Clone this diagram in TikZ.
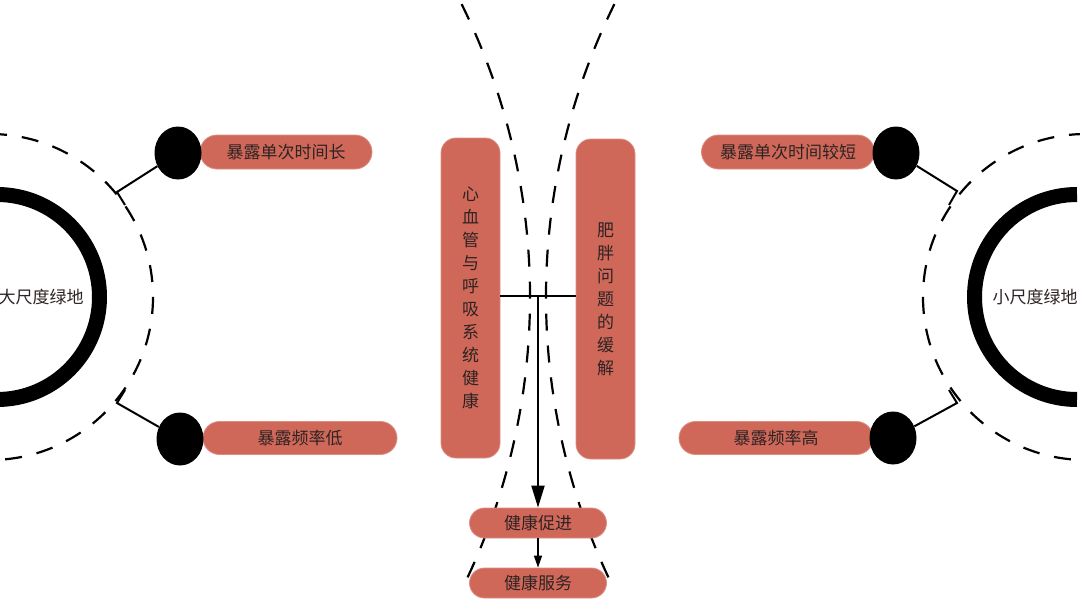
\documentclass[tikz,border=0pt]{standalone}
\usepackage{fontspec}
\newfontfamily\cjk{Noto Sans CJK SC}
\usetikzlibrary{shapes.geometric,arrows.meta}
\definecolor{salmon}{RGB}{207,104,89}
\definecolor{txt}{RGB}{45,35,35}
\tikzset{
  pill/.style={draw=salmon!75!white, line width=0.8pt, fill=salmon, rounded corners=#1,
    inner sep=0pt, text=txt, font=\cjk\fontsize{17}{20}\selectfont},
  tallbox/.style={draw=salmon!75!white, line width=0.8pt, fill=salmon, rounded corners=15pt,
    minimum width=59pt, minimum height=320pt, inner sep=0pt, text=txt, align=center,
    font=\cjk\fontsize{17}{23}\selectfont},
  dot/.style={ellipse, fill=black, minimum width=47pt, minimum height=53pt, inner sep=0pt},
  dashcurve/.style={line width=2.2pt, dash pattern=on 17pt off 15pt},
  bracket/.style={line width=2pt},
  label/.style={text=txt, font=\cjk\fontsize{17}{20}\selectfont, inner sep=0pt},
}
\begin{document}
\begin{tikzpicture}[x=1pt,y=-1pt]
\useasboundingbox[fill=white] (0,0) rectangle (1080,605);

% thick arcs
\draw[line width=15pt] (-3,194.5) arc[start angle=90, end angle=-90, radius=102.5pt];
\draw[line width=15pt] (1077,194.5) arc[start angle=90, end angle=270, radius=102.5pt];
% dashed circles
\draw[dashcurve] (-10,134) arc[start angle=90, end angle=-90, radius=163pt];
\draw[dashcurve] (1086,134) arc[start angle=90, end angle=270, radius=163pt];
% central dashed curves
\draw[dashcurve] (461.6,4.1) arc[start angle=26.3, end angle=-26.3, radius=661pt];
\draw[dashcurve] (614.4,4.1) arc[start angle=153.7, end angle=206.3, radius=661pt];

% labels
\node[label] (big) at (41,297) {大尺度绿地};
\node[label] (small) at (1035,297) {小尺度绿地};

% pills
\node[pill=17pt, minimum width=172pt, minimum height=34pt] (tl) at (286,152) {暴露单次时间长};
\node[pill=16.5pt, minimum width=194pt, minimum height=33pt] (bl) at (300,438) {暴露频率低};
\node[pill=17pt, minimum width=173pt, minimum height=34pt] (tr) at (788,152) {暴露单次时间较短};
\node[pill=16.5pt, minimum width=194pt, minimum height=33pt] (br) at (776,438) {暴露频率高};

% dots
\node[dot] (dtl) at (178,153) {};
\node[dot] (dbl) at (180,439) {};
\node[dot] (dtr) at (896,153) {};
\node[dot] (dbr) at (893,438) {};

% brackets
\coordinate (ctl) at (117,192); \coordinate (etl) at (125,205);
\coordinate (cbl) at (117,403); \coordinate (ebl) at (125,390);
\coordinate (ctr) at (957,191); \coordinate (etr) at (949,205);
\coordinate (cbr) at (957,403); \coordinate (ebr) at (949,390);
\draw[bracket] (dtl) -- (ctl) -- (etl);
\draw[bracket] (dbl) -- (cbl) -- (ebl);
\draw[bracket] (dtr) -- (ctr) -- (etr);
\draw[bracket] (dbr) -- (cbr) -- (ebr);

% central boxes
\node[tallbox] (heart) at (470.5,298) {心\\血\\管\\与\\呼\\吸\\系\\统\\健\\康};
\node[tallbox] (obese) at (605.5,299) {肥\\胖\\问\\题\\的\\缓\\解};

\node[pill=15pt, minimum width=137pt, minimum height=30pt] (promo) at (538,523) {健康促进};
\node[pill=15pt, minimum width=137pt, minimum height=30pt] (serv) at (538,583) {健康服务};

% connectors
\coordinate (hl) at (500,296);
\coordinate (hr) at (576,296);
\coordinate (join) at (538,296);
\draw[line width=2pt] (hl) -- (hr);
\draw[line width=2pt, -{Triangle[length=22pt,width=13pt]}] (join) -- (promo.north);
\draw[line width=1.4pt, -{Triangle[length=12pt,width=8pt]}] (promo.south) -- (serv.north);
\end{tikzpicture}
\end{document}
